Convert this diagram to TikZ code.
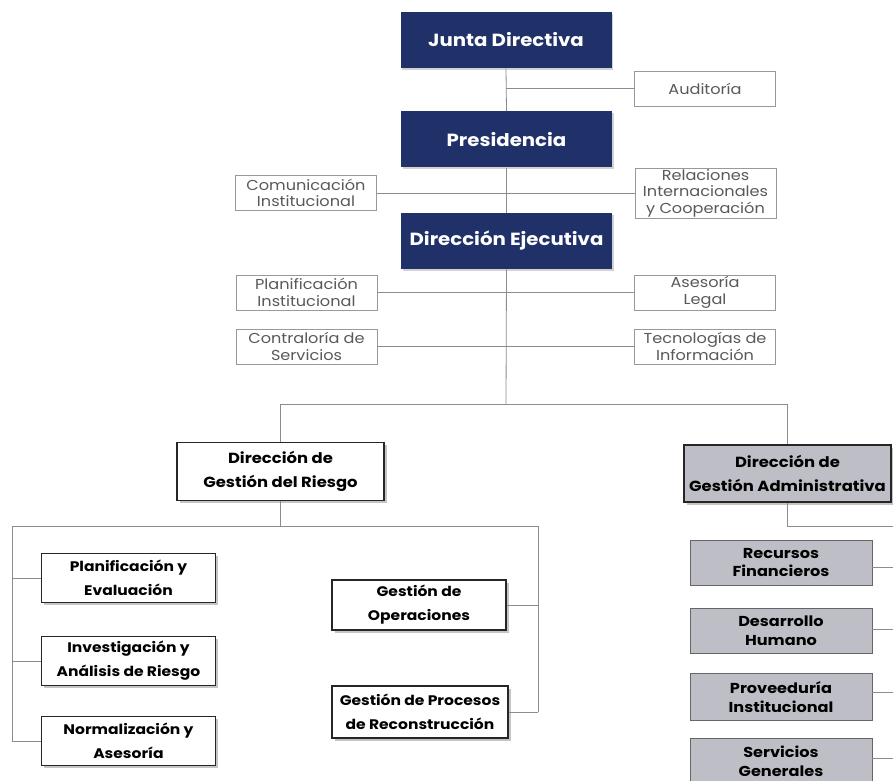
\documentclass[tikz,border=0pt]{standalone}
\usepackage{fontspec}
\setmainfont[FakeStretch=1.12]{Poppins}
\usetikzlibrary{shadows}
\newdimen\px \px=0.75pt
\definecolor{navy}{RGB}{32,48,104}
\definecolor{lgray}{RGB}{190,190,198}
\definecolor{conn}{RGB}{140,140,140}
\begin{document}
\begin{tikzpicture}[x=0.75pt,y=-0.75pt,
  topbox/.style={fill=navy, text=white, inner sep=0pt,
    font=\bfseries\fontsize{13.2}{15}\selectfont,
    minimum width=211\px, minimum height=56\px,
    drop shadow={shadow xshift=1.2pt, shadow yshift=-1.2pt, fill=black!35}},
  sidebox/.style={draw=black!40, fill=white, text=black!65, inner sep=0pt,
    font=\fontsize{10.8}{12.4}\selectfont, align=center, line width=0.6pt,
    minimum width=141\px, minimum height=35\px},
  headbox/.style={draw=black!85, fill=white, inner sep=0pt, line width=0.8pt,
    font=\bfseries\fontsize{11}{18}\selectfont, align=center,
    minimum width=207\px, minimum height=58\px,
    drop shadow={shadow xshift=2pt, shadow yshift=-2pt, fill=black!45}},
  subbox/.style={draw=black!85, fill=white, inner sep=0pt, line width=0.8pt,
    font=\bfseries\fontsize{10.4}{18}\selectfont, align=center,
    minimum width=174\px, minimum height=49\px,
    drop shadow={shadow xshift=2pt, shadow yshift=-2pt, fill=black!45}},
  graybox/.style={draw=black!60, fill=lgray, inner sep=0pt, line width=0.6pt,
    font=\bfseries\fontsize{10.8}{14.2}\selectfont, align=center,
    minimum width=182\px, minimum height=45\px},
  link/.style={draw=conn, line width=0.6pt}
]
\useasboundingbox (0,0) rectangle (893,781);
\fill[white] (0,0) rectangle (893,781);

% top chain
\node[topbox] (jd) at (506,40) {Junta Directiva};
\node[topbox] (pres) at (506.5,139.5) {Presidencia};
\node[topbox] (de) at (506.5,241) {Dirección Ejecutiva};

\node[sidebox] (aud) at (705,88.5) {Auditoría};
\node[sidebox] (com) at (306,193) {Comunicación\\Institucional};
\node[sidebox, minimum height=50\px] (rel) at (705.5,193) {Relaciones\\Internacionales\\y Cooperación};
\node[sidebox] (plan) at (306.5,292.5) {Planificación\\Institucional};
\node[sidebox] (ase) at (705,292.5) {Asesoría\\Legal};
\node[sidebox] (con) at (306.5,346.5) {Contraloría de\\Servicios};
\node[sidebox] (tec) at (705,346.5) {Tecnologías de\\Información};

\coordinate (c1) at (506,88.5);
\coordinate (hub) at (506,404);
\coordinate (hr) at (787.5,404);

\path[link] (jd.south) -- (pres.north);
\path[link] (pres.south) -- (de.north);
\path[link] (de.south) -- (hub);
\path[link] (c1) -- (aud.west);
\path[link] (com.east) -- (rel.west);
\path[link] (plan.east) -- (ase.west);
\path[link] (con.east) -- (tec.west);

% second level
\node[headbox] (dgr) at (280.5,471.5) {Dirección de\\Gestión del Riesgo};
\node[headbox, fill=lgray, minimum height=57\px] (dga) at (787.5,473.5) {Dirección de\\Gestión Administrativa};
\path[link] (dgr.north) |- (hr) -- (dga.north);

% risk management children
\coordinate (rl) at (12,526);
\coordinate (rm) at (280.5,526);
\coordinate (rr) at (538,526);
\node[subbox] (pe) at (128.5,578) {Planificación y\\Evaluación};
\node[subbox] (ia) at (128.5,661) {Investigación y\\Análisis de Riesgo};
\node[subbox] (na) at (128.5,741) {Normalización y\\Asesoría};
\node[subbox, minimum height=50\px] (go) at (419,605) {Gestión de\\Operaciones};
\node[subbox, minimum width=176\px, minimum height=52\px] (gp) at (420,712) {Gestión de Procesos\\de Reconstrucción};

\coordinate (l1) at (12,578);
\coordinate (l2) at (12,661);
\coordinate (l3) at (12,741);
\coordinate (r1) at (538,605);
\coordinate (r2) at (538,712);
\path[link] (dgr.south) -- (rm);
\path[link] (l3) -- (rl) -- (rr) -- (r2);
\path[link] (l1) -- (pe.west);
\path[link] (l2) -- (ia.west);
\path[link] (l3) -- (na.west);
\path[link] (r1) -- (go.east);
\path[link] (r2) -- (gp.east);

% administrative children
\node[graybox] (rf) at (781,562.5) {Recursos\\Financieros};
\node[graybox] (dh) at (781,630.5) {Desarrollo\\Humano};
\node[graybox, minimum height=47\px] (pi) at (781,697) {Proveeduría\\Institucional};
\node[graybox] (sg) at (781,761) {Servicios\\Generales};
\coordinate (ab) at (787.5,526);
\coordinate (ae) at (893,526);
\coordinate (e1) at (893,567);
\coordinate (e2) at (893,629);
\coordinate (e3) at (893,692);
\coordinate (e4) at (893,758);
\path[link] (dga.south) -- (ab) -- (ae);
\path[link] (rf.east |- e1) -- (e1);
\path[link] (dh.east |- e2) -- (e2);
\path[link] (pi.east |- e3) -- (e3);
\path[link] (sg.east |- e4) -- (e4);
\end{tikzpicture}
\end{document}
